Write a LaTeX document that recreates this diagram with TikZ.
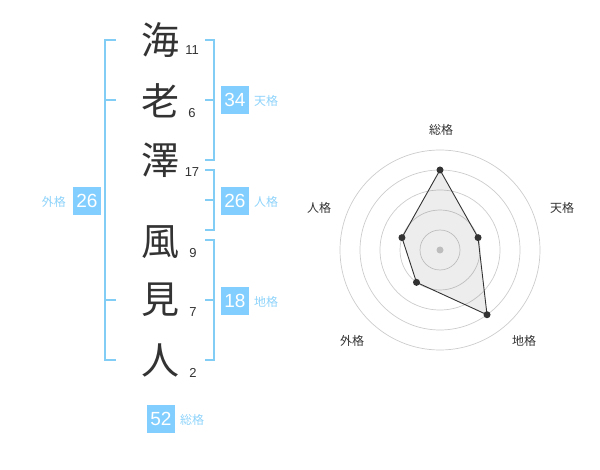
\documentclass[tikz,border=0pt]{standalone}
\usepackage{fontspec}
\setmainfont{Liberation Sans}
\newfontfamily\cjk{Noto Sans CJK JP}
\definecolor{boxblue}{HTML}{82CFFF}
\definecolor{lineblue}{HTML}{82CDF5}
\definecolor{lblblue}{HTML}{8ED3FA}
\definecolor{darkg}{HTML}{333333}
\definecolor{ringg}{HTML}{CCCCCC}
\begin{document}
\begin{tikzpicture}[x=1pt,y=-1pt,
  kanji/.style={font=\cjk\fontsize{38}{38}\selectfont, text=darkg, inner sep=0pt},
  stroke/.style={font=\fontsize{13}{13}\selectfont, text=darkg, inner sep=0pt},
  numbox/.style={fill=boxblue, text=white, minimum width=28pt, minimum height=28pt, inner sep=0pt, font=\fontsize{19}{19}\selectfont},
  kaku/.style={font=\cjk\fontsize{12}{12}\selectfont, text=lblblue, inner sep=0pt},
  brk/.style={draw=lineblue, line width=2pt},
  ring/.style={draw=ringg, line width=0.7pt},
  axlbl/.style={font=\cjk\fontsize{12}{12}\selectfont, text=darkg, inner sep=0pt},
  pt/.style={circle, fill=darkg, minimum size=7pt, inner sep=0pt}
]
\useasboundingbox (0,0) rectangle (600,470);
% kanji
\node[kanji] (k1) at (160,40) {海};
\node[kanji] (k2) at (160,101) {老};
\node[kanji] (k3) at (160,160) {澤};
\node[kanji] (k4) at (160,242) {風};
\node[kanji] (k5) at (160,300) {見};
\node[kanji] (k6) at (160,360) {人};
\node[stroke] (s1) at (192,50) {11};
\node[stroke] (s2) at (192,113) {6};
\node[stroke] (s3) at (192,172) {17};
\node[stroke] (s4) at (193,253) {9};
\node[stroke] (s5) at (193,312) {7};
\node[stroke] (s6) at (193,373) {2};
% left bracket (gaikaku)
\draw[brk] (116,40) -- (105,40) -- (105,360) -- (116,360);
\draw[brk] (105,100) -- (116,100);
\draw[brk] (105,300) -- (116,300);
% right brackets
\draw[brk] (205,40) -- (214,40) -- (214,160) -- (205,160);
\draw[brk] (214,100) -- (205,100);
\draw[brk] (205,170) -- (214,170) -- (214,230) -- (205,230);
\draw[brk] (214,200) -- (205,200);
\draw[brk] (205,240) -- (214,240) -- (214,360) -- (205,360);
\draw[brk] (214,300) -- (205,300);
% boxes and labels
\node[numbox] (b1) at (235,100) {34};
\node[kaku, anchor=west] (l1) at (254,101) {天格};
\node[numbox] (b2) at (235,201) {26};
\node[kaku, anchor=west] (l2) at (254,202) {人格};
\node[numbox] (b3) at (235,301) {18};
\node[kaku, anchor=west] (l3) at (254,302) {地格};
\node[numbox] (b4) at (87,201) {26};
\node[kaku, anchor=east] (l4) at (66,202) {外格};
\node[numbox] (b5) at (161,419) {52};
\node[kaku, anchor=west] (l5) at (180,420) {総格};
% radar chart
\foreach \r in {20,40,60,80,100} \draw[ring] (440,250) circle (\r);
\fill[ringg] (440,250) circle (3.5);
\coordinate (cc) at (440,250);
\path (cc) ++(90:-80) coordinate (p1);
\path (cc) ++(-18:40) coordinate (p2);
\path (cc) ++(54:80) coordinate (p3);
\path (cc) ++(126:40) coordinate (p4);
\path (cc) ++(198:40) coordinate (p5);
\fill[black, fill opacity=0.07] (p1) -- (p2) -- (p3) -- (p4) -- (p5) -- cycle;
\draw[darkg, line width=0.9pt] (p1) -- (p2) -- (p3) -- (p4) -- (p5) -- cycle;
\foreach \p in {p1,p2,p3,p4,p5} \node[pt] at (\p) {};
\node[axlbl] (a1) at (441,130) {総格};
\node[axlbl] (a2) at (562,208) {天格};
\node[axlbl] (a3) at (524,341) {地格};
\node[axlbl] (a4) at (352,341) {外格};
\node[axlbl] (a5) at (319,208) {人格};
\end{tikzpicture}
\end{document}
